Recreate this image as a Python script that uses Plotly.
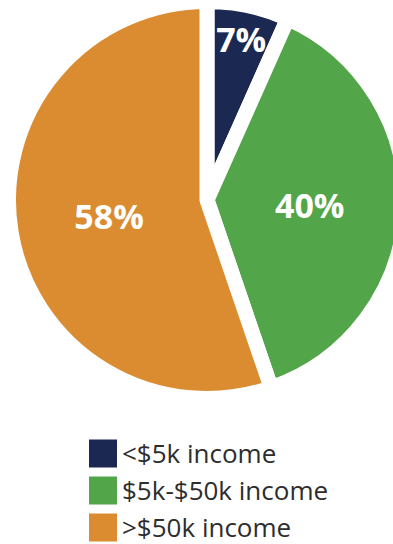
import plotly.graph_objects as go

# Share of households by income band
categories = ["<$5k income", "$5k-$50k income", ">$50k income"]
shares = [7, 40, 58]
colors = ["#1b2952", "#52a548", "#db8c30"]

W, H = 414, 544
cx, cy, r = 207, 200, 198.5

fig = go.Figure(
    go.Pie(
        labels=categories,
        values=shares,
        text=[f"{v}%" for v in shares],
        textinfo="text",
        textposition="inside",
        insidetextorientation="horizontal",
        textfont=dict(family="Open Sans", size=34, color="white", weight="bold"),
        marker=dict(colors=colors, line=dict(color="white", width=15)),
        sort=False,
        direction="clockwise",
        rotation=0,
        hoverinfo="skip",
        domain=dict(
            x=[(cx - r) / W, (cx + r) / W],
            y=[1 - (cy + r) / H, 1 - (cy - r) / H],
        ),
    )
)

# Legend: colour swatch plus label per income band
shapes, annotations = [], []
for i, (name, col) in enumerate(zip(categories, colors)):
    yc = 453.5 + 37 * i
    shapes.append(dict(
        type="rect", xref="paper", yref="paper",
        x0=89 / W, x1=117 / W, y0=1 - (yc + 14) / H, y1=1 - (yc - 14) / H,
        fillcolor=col, line=dict(width=0),
    ))
    annotations.append(dict(
        text=name, xref="paper", yref="paper",
        x=121 / W, y=1 - (yc - 0.5) / H, xanchor="left", yanchor="middle",
        showarrow=False, borderpad=0,
        font=dict(family="Open Sans", size=26, color="#2d2d2d"),
    ))

fig.update_layout(
    width=W, height=H,
    margin=dict(l=0, r=0, t=0, b=0),
    paper_bgcolor="white",
    showlegend=False,
    uniformtext=dict(minsize=34, mode="show"),
    shapes=shapes,
    annotations=annotations,
)

fig.write_html("out.html")
